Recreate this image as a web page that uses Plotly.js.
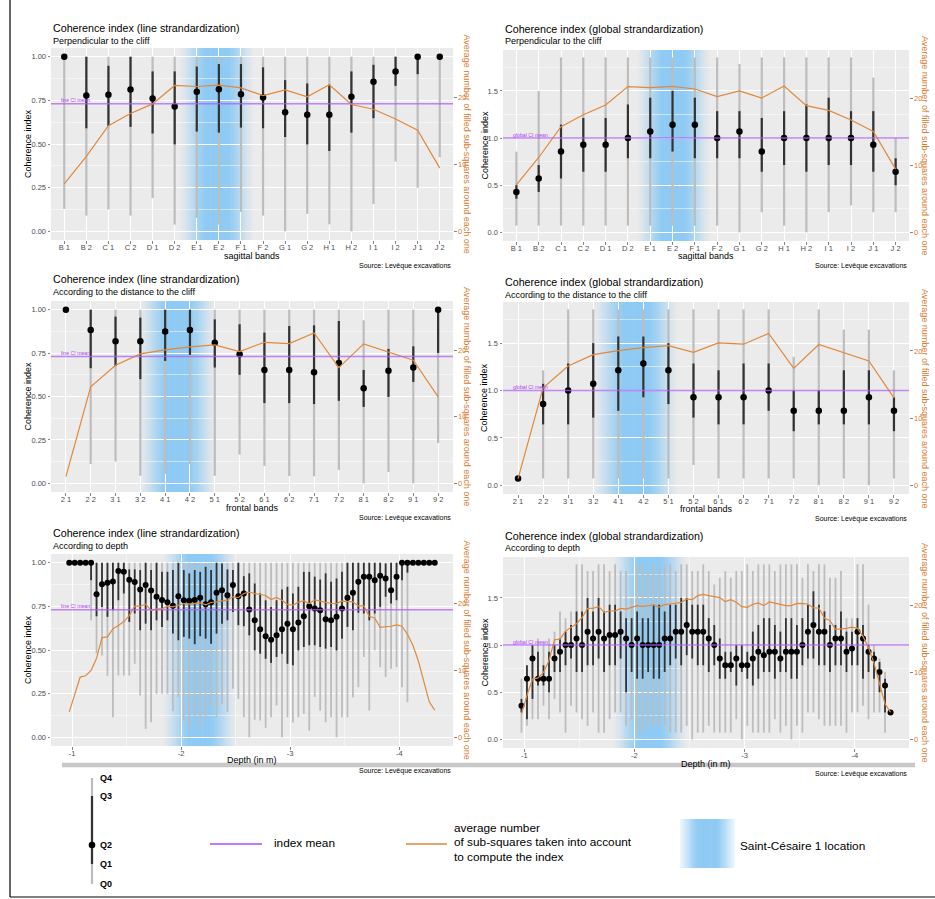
<!DOCTYPE html>
<html><head><meta charset="utf-8">
<script src="https://cdn.plot.ly/plotly-3.0.1.min.js"></script>
<style>html,body{margin:0;padding:0;background:#fff}#chart{width:935px;height:899px}</style>
</head><body><div id="chart"></div>
<script>
// ================= DATA =================
const sagittalBands = ['B 1','B 2','C 1','C 2','D 1','D 2','E 1','E 2','F 1','F 2','G 1','G 2','H 1','H 2','I 1','I 2','J 1','J 2'];
const frontalBands = ['2 1','2 2','3 1','3 2','4 1','4 2','5 1','5 2','6 1','6 2','7 1','7 2','8 1','8 2','9 1','9 2'];
const depths = [-0.975,-1.025,-1.075,-1.125,-1.175,-1.225,-1.275,-1.325,-1.375,-1.425,
  -1.475,-1.525,-1.575,-1.625,-1.675,-1.725,-1.775,-1.825,-1.875,-1.925,
  -1.975,-2.025,-2.075,-2.125,-2.175,-2.225,-2.275,-2.325,-2.375,-2.425,
  -2.475,-2.525,-2.575,-2.625,-2.675,-2.725,-2.775,-2.825,-2.875,-2.925,
  -2.975,-3.025,-3.075,-3.125,-3.175,-3.225,-3.275,-3.325,-3.375,-3.425,
  -3.475,-3.525,-3.575,-3.625,-3.675,-3.725,-3.775,-3.825,-3.875,-3.925,
  -3.975,-4.025,-4.075,-4.125,-4.175,-4.225,-4.275,-4.325];

// average number of filled sub-squares (right axis)
const sagittalCount = [7.1,11.2,15.8,17.6,19.05,21.8,21.65,21.85,21.45,20.3,21.15,20.1,21.9,18.95,18.25,16.8,15.1,9.45];
const frontalCount = [1.0,14.5,17.75,19.45,20.05,20.5,20.8,19.8,21.2,21.0,22.6,17.4,20.95,19.7,18.5,13.0];
const depthCount = [3.8,6.6,9.0,9.2,10.0,11.8,14.9,15.0,16.2,16.7,
  17.3,18.2,19.6,19.6,19.9,19.0,19.2,19.2,19.6,19.5,
  19.8,20.0,19.9,20.0,20.1,19.8,20.15,20.25,20.4,20.5,
  21.0,20.9,21.5,21.7,21.5,21.35,21.2,20.6,20.9,20.5,
  19.85,19.75,20.2,20.4,20.0,20.55,20.35,20.15,20.0,20.0,
  20.35,20.3,20.25,19.65,19.65,18.1,17.8,16.45,16.5,16.6,
  16.8,16.6,15.4,13.75,11.4,8.3,5.3,4.05];

// index means
const lineCIMean = 0.73;
const globalCIMean = 1.0;

// --- sagittal, line standardization ---
const sagLineQ4 = [1,1,1,1,1,1,1,1,1,1,1,1,1,1,1,1,1,1];
const sagLineQ3 = [1,1,0.948,1,0.916,0.916,0.944,0.958,0.958,0.939,0.866,0.847,0.84,0.916,0.954,1,1,1];
const sagLineQ2 = [1,0.778,0.782,0.812,0.76,0.715,0.80,0.814,0.785,0.766,0.682,0.667,0.667,0.77,0.856,0.916,1,1];
const sagLineQ1 = [1,0.59,0.603,0.598,0.56,0.498,0.571,0.565,0.594,0.59,0.54,0.498,0.46,0.565,0.648,0.833,0.90,1];
const sagLineQ0 = [0.128,0.09,0.125,0.09,0.19,0.038,0.077,0.038,0.111,0.09,0.0,0.10,0.04,0.0,0.157,0.40,0.249,0.425];

// --- sagittal, global standardization ---
const sagGlobQ4 = [0.857,1.5,1.857,1.857,1.857,1.857,1.857,1.857,1.857,1.857,1.786,1.857,1.857,1.857,1.857,1.857,1.643,1.0];
const sagGlobQ3 = [0.5,0.714,1.143,1.214,1.214,1.357,1.429,1.5,1.429,1.286,1.286,1.214,1.286,1.357,1.429,1.286,1.286,0.786];
const sagGlobQ2 = [0.429,0.571,0.857,0.929,0.929,1.0,1.071,1.143,1.143,1.0,1.071,0.857,1.0,1.0,1.0,1.0,0.929,0.643];
const sagGlobQ1 = [0.357,0.429,0.571,0.643,0.643,0.786,0.786,0.857,0.786,0.786,0.786,0.643,0.714,0.643,0.714,0.714,0.643,0.5];
const sagGlobQ0 = [0.071,0.071,0.071,0.071,0.071,0.071,0.071,0.071,0.071,0.071,0,0.214,0.071,0,0.214,0.286,0.214,0.214];

// --- frontal, line standardization ---
const froLineQ4 = [1,1,1,1,1,1,1,1,1,1,1,1,0.939,1,1,1];
const froLineQ3 = [1,1,0.96,0.954,1,1,0.944,0.916,0.868,0.906,0.91,0.935,0.653,0.774,0.789,1];
const froLineQ2 = [1,0.883,0.818,0.818,0.875,0.883,0.81,0.743,0.653,0.653,0.64,0.693,0.548,0.648,0.667,1];
const froLineQ1 = [1,0.663,0.676,0.60,0.705,0.74,0.667,0.625,0.462,0.462,0.456,0.475,0.44,0.498,0.584,0.751];
const froLineQ0 = [1,0.111,0.126,0.044,0.054,0.111,0.044,0.165,0.10,0.042,0.04,0.077,0.0,0.065,0.0,0.232];

// --- frontal, global standardization ---
const froGlobQ4 = [0.071,1.214,1.857,1.857,1.857,1.857,1.857,1.857,1.857,1.857,1.857,1.357,1.857,1.643,1.643,1.214];
const froGlobQ3 = [0.071,1.071,1.286,1.5,1.571,1.571,1.5,1.286,1.214,1.286,1.286,1.0,1.0,1.214,1.214,0.929];
const froGlobQ2 = [0.071,0.857,1.0,1.071,1.214,1.286,1.214,0.929,0.929,0.929,1.0,0.786,0.786,0.786,0.929,0.786];
const froGlobQ1 = [0.071,0.643,0.643,0.714,0.786,0.929,0.857,0.714,0.643,0.643,0.786,0.571,0.643,0.643,0.643,0.571];
const froGlobQ0 = [0.071,0.071,0.071,0.071,0.071,0.071,0.071,0.214,0.071,0.071,0.071,0.071,0,0.071,0,0.071];

// --- depth, line standardization ---
const depLineQ4 = [1,1,1,1,1,1,1,1,1,1, 1,1,1,1,1,1,1,1,1,1, 1,1,1,1,1,1,1,1,1,1, 1,1,1,1,1,1,1,1,1,1,
  1,1,1,1,1,1,1,1,1,1, 1,1,1,1,1,1,1,1,1,1, 1,1,1,1,1,1,1,1];
const depLineQ3 = [1,1,1,1,1, 1,1,1,1,1, 1,0.962,0.962,0.958,1, 0.958,1,0.948,0.948,0.958,
  1,0.958,0.939,0.958,0.948, 0.977,0.958,1,0.996,0.962, 0.958,1,0.923,0.939,0.881,
  0.824,0.785,0.747,0.785,0.847, 0.862,0.824,0.862,0.948,0.948, 0.92,0.904,0.939,0.891,0.91,
  0.948,1,1,1,1, 1,1,1,0.996,1, 1,1,1,1,1, 1,1,1];
const depLineQ2 = [1,1,1,1,1, 0.82,0.877,0.885,0.893,0.952, 0.948,0.902,0.889,0.847,0.872,
  0.841,0.805,0.787,0.774,0.753, 0.808,0.785,0.782,0.787,0.80, 0.762,0.774,0.828,0.843,0.814,
  0.872,0.808,0.824,0.732,0.67, 0.619,0.579,0.559,0.584,0.619, 0.651,0.619,0.657,0.693,0.751,
  0.738,0.728,0.676,0.67,0.69, 0.738,0.80,0.828,0.891,0.92, 0.92,0.90,0.925,0.91,0.843,
  0.92,1,1,1,1, 1,1,1];
const depLineQ1 = [1,1,1,1,0.9, 0.693,0.747,0.69,0.728,0.785, 0.824,0.661,0.709,0.613,0.651,
  0.613,0.67,0.632,0.67,0.594, 0.556,0.575,0.565,0.533,0.579, 0.565,0.536,0.594,0.651,0.67,
  0.718,0.642,0.636,0.584,0.498, 0.479,0.45,0.425,0.46,0.479, 0.421,0.412,0.498,0.517,0.527,
  0.527,0.517,0.508,0.517,0.498, 0.565,0.632,0.613,0.713,0.709, 0.67,0.709,0.747,0.805,0.766,
  0.785,0.9,0.943,1,1, 1,1,1];
const depLineQ0 = [1,1,1,1,0.67, 0.48,0.469,0.352,0.115,0.354, 0.354,0.354,0.421,0.239,0.048,
  0.086,0.249,0.249,0.249,0.149, 0.23,0.096,0.048,0.115,0.048, 0.105,0.182,0.115,0.192,0.144,
  0.278,0.22,0.115,0,0.10, 0.096,0.054,0.115,0.182,0, 0.115,0.084,0.115,0.134,0.038,
  0.23,0.153,0.086,0.115,0, 0.115,0.115,0.23,0.287,0.46, 0.153,0.498,0.402,0.345,0.393,
  0.402,0.287,0.201,1,1, 1,1,1];

// --- depth, global standardization ---
const depGlobQ4 = [0.643,0.786,1,1.071,1,1.071,1.143,1.357,1.286,1.357, 1.857,1.857,1.786,1.786,1.857,1.857,1.786,1.857,1.786,1.786,
  1.5,1.857,1.857,1.786,1.857,1.786,1.857,1.857,1.786,1.857, 1.857,1.786,1.786,1.857,1.786,1.643,1.714,1.786,1.714,1.786,
  1.786,1.857,1.786,1.857,1.857,1.857,1.786,1.857,1.857,1.857, 1.857,1.714,1.857,1.786,1.857,1.857,1.714,1.714,1.786,1.286,
  1.286,1.857,1.857,1.429,1,0.857,0.714,0.286];
const depGlobQ3 = [0.429,0.786,1,0.929,0.786,0.929,1,1.071,1.143,1.214, 1.357,1.357,1.5,1.357,1.5,1.357,1.429,1.429,1.357,1.286,
  1.286,1.357,1.286,1.286,1.429,1.429,1.357,1.429,1.429,1.5, 1.5,1.429,1.429,1.429,1.286,1.214,1.071,0.929,0.929,1,
  1,0.929,1.143,1.214,1.286,1.286,1.214,1.143,1.286,1.286, 1.214,1.286,1.429,1.571,1.429,1.357,1.214,1.214,1.357,1.143,
  1.143,1.286,1.214,1,0.929,0.821,0.643,0.286];
const depGlobQ2 = [0.357,0.643,0.857,0.643,0.643,0.643,0.857,0.929,1,1, 1.071,1,1.143,1.071,1.143,1.071,1.107,1.107,1.143,1.071,
  1,1.071,1,1,1,1,1.071,1.071,1.143,1.143, 1.214,1.143,1.143,1.143,1.071,1,0.857,0.786,0.786,0.857,
  0.786,0.786,0.857,0.929,0.893,0.929,0.929,0.857,0.929,0.929, 0.929,1,1.143,1.214,1.143,1.143,1,1.071,1.071,0.929,
  0.964,1.143,1.071,0.929,0.857,0.714,0.571,0.286];
const depGlobQ1 = [0.286,0.214,0.429,0.571,0.571,0.5,0.714,0.714,0.786,0.857, 0.714,0.714,0.786,0.786,0.857,0.714,0.786,0.786,0.857,0.5,
  0.714,0.643,0.643,0.714,0.643,0.643,0.714,0.786,0.857,0.786, 0.893,0.857,0.786,0.786,0.714,0.786,0.643,0.643,0.714,0.571,
  0.714,0.643,0.571,0.643,0.714,0.714,0.643,0.714,0.714,0.643, 0.643,0.786,0.857,0.857,0.786,0.786,0.714,0.786,0.786,0.714,
  0.786,0.786,0.643,0.714,0.643,0.5,0.286,0.286];
const depGlobQ0 = [0.071,0.143,0.214,0.214,0.357,0.214,0.429,0.286,0.071,0.357, 0.286,0.214,0.143,0.286,0.071,0.071,0.214,0.286,0.286,0.143,
  0.214,0.071,0.071,0.143,0.143,0.143,0.143,0.071,0.071,0.071, 0.143,0,0.071,0.071,0.143,0.071,0.071,0.071,0.071,0.214,
  0,0.143,0.071,0.071,0.071,0.071,0.214,0.071,0.143,0, 0.143,0.071,0.286,0.286,0.214,0.143,0.143,0.143,0.143,0.071,
  0.286,0.286,0.357,0.214,0.286,0.286,0.071,0.286];

// Saint-Césaire 1 location (axis units: category index or depth in m)
const scSagittal = 6.9, scFrontal = 4.5, scFrontalG = 4.7, scDepth = -2.17;

// titles
const titleLine = 'Coherence index (line strandardization)';
const titleGlobal = 'Coherence index (global strandardization)';
const subPerp = 'Perpendicular to the cliff';
const subDist = 'According to the distance to the cliff';
const subDepth = 'According to depth';
const yTitle = 'Coherence index';
const y2Title = 'Average number of filled sub-squares around each one';
const sourceText = 'Source: Levêque excavations';
const legendCountLines = ['average number', 'of sub-squares taken into account', 'to compute the index'];

// ================= STYLE / LAYOUT =================
const W = 935, H = 899;
const fx = p => p / W;
const fy = p => 1 - p / H;
const FONT = 'Liberation Sans, Arial, Helvetica, sans-serif';
const ORANGE_LINE = '#E0893B';
const ORANGE_TXT = '#DA7A2C';
const PURPLE = 'rgba(175, 95, 245, 0.75)';
const PURPLE_TXT = '#B040F0';
const BG = [235, 235, 235];
const BLUE = [142, 202, 243];
const mix = (a, b, f) => 'rgb(' + a.map((v, i) => Math.round(v + (b[i] - v) * f)).join(',') + ')';
const profile = t => { const u = Math.max(0, Math.min(1, (1 - Math.abs(t)) * 1.35)); return u * u * (3 - 2 * u) * 0.6 + u * 0.4; };

const panels = [
  {px:[51,453], py:[48,240], title:titleLine, sub:subPerp, xt:'sagittal bands', kind:'line',
   xs:sagittalBands, q:[sagLineQ0,sagLineQ1,sagLineQ2,sagLineQ3,sagLineQ4], cnt:sagittalCount,
   band:[scSagittal,1.75], tY:28, sY:41, ylabX:28, y2labX:466.6, xlabY:256, srcY:266},
  {px:[503,909], py:[50,241], title:titleGlobal, sub:subPerp, xt:'sagittal bands', kind:'global',
   xs:sagittalBands, q:[sagGlobQ0,sagGlobQ1,sagGlobQ2,sagGlobQ3,sagGlobQ4], cnt:sagittalCount,
   band:[scSagittal+0.15,1.7], tY:29, sY:41, ylabX:484, y2labX:925.5, xlabY:256, srcY:266},
  {px:[51,453], py:[301,492], title:titleLine, sub:subDist, xt:'frontal bands', kind:'line',
   xs:frontalBands, q:[froLineQ0,froLineQ1,froLineQ2,froLineQ3,froLineQ4], cnt:frontalCount,
   band:[scFrontal,1.6], tY:279, sY:292, ylabX:28, y2labX:466.6, xlabY:507.5, srcY:517.5},
  {px:[503,909], py:[302,494], title:titleGlobal, sub:subDist, xt:'frontal bands', kind:'global',
   xs:frontalBands, q:[froGlobQ0,froGlobQ1,froGlobQ2,froGlobQ3,froGlobQ4], cnt:frontalCount,
   band:[scFrontalG,1.75], tY:282.5, sY:295, ylabX:484, y2labX:925, xlabY:509, srcY:519},
  {px:[51,453], py:[554,746], title:titleLine, sub:subDepth, xt:'Depth (in m)', kind:'line',
   xs:depths, q:[depLineQ0,depLineQ1,depLineQ2,depLineQ3,depLineQ4], cnt:depthCount,
   band:[scDepth,0.35], tY:533, sY:545.5, ylabX:28, y2labX:466.6, xlabY:759.5, srcY:771, depth:true},
  {px:[503,909], py:[557,748], title:titleGlobal, sub:subDepth, xt:'Depth (in m)', kind:'global',
   xs:depths, q:[depGlobQ0,depGlobQ1,depGlobQ2,depGlobQ3,depGlobQ4], cnt:depthCount,
   band:[scDepth+0.03,0.35], tY:535.5, sY:548, ylabX:484, y2labX:925.5, xlabY:763.5, srcY:774, depth:true}
];

const traces = [], shapes = [], annotations = [];
const layout = {
  width: W, height: H, margin: {l:0, r:0, t:0, b:0},
  paper_bgcolor: '#FFFFFF', plot_bgcolor: '#EBEBEB', showlegend: false,
  font: {family: FONT, color: '#000'}
};
const tickFont = {family: FONT, size: 7.5, color: '#4D4D4D'};

function seg(xs, lo, hi) {
  const X = [], Y = [];
  for (let i = 0; i < xs.length; i++) { X.push(xs[i], xs[i], null); Y.push(lo[i], hi[i], null); }
  return [X, Y];
}
function txt(x, y, text, size, opts) {
  annotations.push(Object.assign({xref:'paper', yref:'paper', x:fx(x), y:fy(y), text:text, showarrow:false,
    xanchor:'left', yanchor:'middle', font:{family:FONT, size:size, color:'#000'}}, opts || {}));
}

panels.forEach((P, k) => {
  const n = k + 1;
  const xa = n === 1 ? 'x' : 'x' + n;
  const ya = n === 1 ? 'y' : 'y' + n;
  const y2 = 'y' + (n + 6);
  const isLine = P.kind === 'line';
  const yRange = isLine ? [-0.05, 1.05] : [-0.092, 1.935];
  const factor = isLine ? 26.1 : 14.1;

  // x axis
  const xaxis = {domain:[fx(P.px[0]), fx(P.px[1])], anchor:ya, showgrid:true, gridcolor:'#FFFFFF', gridwidth:1,
    zeroline:false, showline:false, ticks:'outside', ticklen:2.5, tickwidth:0.6, tickcolor:'#333333',
    tickfont:tickFont, ticklabelstandoff:-3};
  if (P.depth) {
    Object.assign(xaxis, {type:'linear', range:[-0.8075, -4.4925], tickvals:[-1,-2,-3,-4], ticktext:['-1','-2','-3','-4'],
      minor:{dtick:0.5, tick0:-1, showgrid:true, gridcolor:'#FFFFFF', gridwidth:0.5, ticks:''}});
  } else {
    Object.assign(xaxis, {type:'category', categoryorder:'array', categoryarray:P.xs, range:[-0.6, P.xs.length - 0.4]});
  }
  layout['xaxis' + (n === 1 ? '' : n)] = xaxis;

  // left y axis
  layout['yaxis' + (n === 1 ? '' : n)] = {domain:[fy(P.py[1]), fy(P.py[0])], anchor:xa, range:yRange,
    tick0:0, dtick: isLine ? 0.25 : 0.5, tickformat: isLine ? '.2f' : '.1f',
    showgrid:true, gridcolor:'#FFFFFF', gridwidth:1, zeroline:false, showline:false,
    minor:{dtick: isLine ? 0.125 : 0.25, tick0:0, showgrid:true, gridcolor:'#FFFFFF', gridwidth:0.5, ticks:''},
    ticks:'outside', ticklen:2.5, tickwidth:0.6, tickcolor:'#333333', tickfont:tickFont};
  // right y axis (count)
  layout['yaxis' + (n + 6)] = {overlaying:ya, side:'right', anchor:xa, range:[yRange[0]*factor, yRange[1]*factor],
    tickvals:[0,10,20], showgrid:false, zeroline:false, showline:false,
    ticks:'outside', ticklen:2.5, tickwidth:0.6, tickcolor:'#333333',
    tickfont:{family:FONT, size:7.5, color:ORANGE_TXT}};

  // Saint-Césaire band (horizontal gradient)
  const [c, hw] = P.band, N = 48;
  for (let i = 0; i < N; i++) {
    const a = c - hw + 2 * hw * i / N, b = c - hw + 2 * hw * (i + 1.35) / N;
    const t = (c - hw + 2 * hw * (i + 0.5) / N - c) / hw;
    shapes.push({type:'rect', xref:xa, yref:ya + ' domain', x0:a, x1:Math.min(b, c + hw), y0:0, y1:1,
      fillcolor:mix(BG, BLUE, profile(t)), line:{width:0}, layer:'below'});
  }

  // mean line
  const mean = isLine ? lineCIMean : globalCIMean;
  shapes.push({type:'line', xref:xa + ' domain', x0:0, x1:1, yref:ya, y0:mean, y1:mean,
    line:{color:PURPLE, width:1.5}, layer:'above'});
  annotations.push({xref:xa + ' domain', yref:ya, x:0.019, y:mean, yshift:3.6, xanchor:'left', yanchor:'middle',
    text: isLine ? 'line CI mean' : 'global CI mean', showarrow:false, font:{family:FONT, size:5.2, color:PURPLE_TXT}});

  const [q0, q1, q2, q3, q4] = P.q;
  const wl = P.depth ? 1.8 : 2.2;
  let s = seg(P.xs, q0, q4);
  traces.push({type:'scatter', mode:'lines', x:s[0], y:s[1], xaxis:xa, yaxis:ya, connectgaps:false,
    line:{color:'#BDBDBD', width:wl}, hoverinfo:'skip'});
  s = seg(P.xs, q1, q3);
  traces.push({type:'scatter', mode:'lines', x:s[0], y:s[1], xaxis:xa, yaxis:ya, connectgaps:false,
    line:{color:'#333333', width:wl}, hoverinfo:'skip'});
  traces.push({type:'scatter', mode:'markers', x:P.xs, y:q2, xaxis:xa, yaxis:ya,
    marker:{color:'#000000', size: P.depth ? 6 : 6.5}, hoverinfo:'skip'});
  traces.push({type:'scatter', mode:'lines', x:P.xs, y:P.cnt, xaxis:xa, yaxis:y2,
    line:{color:ORANGE_LINE, width:1.2}, hoverinfo:'skip'});

  // texts
  const cx = (P.px[0] + P.px[1]) / 2, cy = (P.py[0] + P.py[1]) / 2;
  txt(P.px[0], P.tY, P.title, 10.7);
  txt(P.px[0], P.sY, P.sub, 9);
  txt(P.ylabX, cy, yTitle, 9, {xanchor:'center', textangle:-90});
  txt(P.y2labX, cy, y2Title, 9, {xanchor:'center', textangle:90, font:{family:FONT, size:9, color:ORANGE_TXT}});
  txt(cx, P.xlabY, P.xt, 9, {xanchor:'center'});
  txt(P.px[1], P.srcY, sourceText, 7, {xanchor:'right'});
});

// ================= LEGEND (bottom) =================
const pl = (x0, y0, x1, y1, color, width) => shapes.push({type:'line', xref:'paper', yref:'paper',
  x0:fx(x0), y0:fy(y0), x1:fx(x1), y1:fy(y1), line:{color:color, width:width}});
// frame
pl(10, 0, 10, 897, '#000000', 1.2);
pl(10, 897, 935, 897, '#000000', 1.2);
// separator
pl(62, 765, 915, 765, '#C8C8C8', 4.5);
// quantile glyph
pl(92, 778, 92, 884, '#BDBDBD', 2.2);
pl(92, 796, 92, 864, '#333333', 2.2);
shapes.push({type:'circle', xref:'paper', yref:'paper', x0:fx(88.7), x1:fx(95.3), y0:fy(848.3), y1:fy(841.7),
  fillcolor:'#000', line:{width:0}});
[['Q4',778],['Q3',796],['Q2',845],['Q1',864],['Q0',884]].forEach(([t, y]) =>
  txt(98, y, '<b>' + t + '</b>', 9));
// index mean
pl(210, 844, 262, 844, 'rgb(170,80,240)', 1.5);
txt(272, 843, 'index mean', 11.8);
// orange line
pl(406, 844, 447, 844, ORANGE_LINE, 1.3);
legendCountLines.forEach((t, i) => txt(452, 827.5 + 14.5 * i, t, 11.8));
// blue gradient legend box
for (let i = 0; i < 30; i++) {
  const a = 680 + 55 * i / 30, b = 680 + 55 * (i + 1.3) / 30;
  const t = (680 + 55 * (i + 0.5) / 30 - 707.5) / 27.5;
  shapes.push({type:'rect', xref:'paper', yref:'paper', x0:fx(a), x1:fx(Math.min(b, 735)), y0:fy(868), y1:fy(819),
    fillcolor:mix([255,255,255], BLUE, profile(t * 0.85)), line:{width:0}});
}
txt(738, 846, 'Saint-Césaire 1 location', 11.8);

layout.shapes = shapes;
layout.annotations = annotations;
Plotly.newPlot('chart', traces, layout, {displayModeBar:false, staticPlot:true});
</script></body></html>
